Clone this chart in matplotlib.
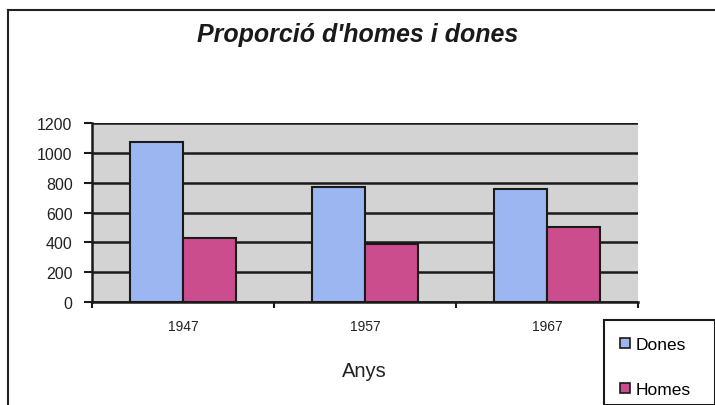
import matplotlib
matplotlib.use("Agg")
import matplotlib.pyplot as plt
from matplotlib.patches import Rectangle, Patch
from matplotlib.lines import Line2D
import numpy as np

plt.rcParams['font.family'] = ['Liberation Sans', 'DejaVu Sans']

years = ["1947", "1957", "1967"]
dones = [1075, 770, 760]
homes = [432, 388, 500]
series_names = ["Dones", "Homes"]
title = "Proporció d'homes i dones"
xlabel = "Anys"

W, H = 715, 406
fig = plt.figure(figsize=(W / 100, H / 100), dpi=100)

# outer chart border
fig.add_artist(Line2D([8 / W, 8 / W], [0, 1 - 11 / H], color="#222222", lw=1.5, transform=fig.transFigure))
fig.add_artist(Line2D([8 / W, 1], [1 - 11 / H, 1 - 11 / H], color="#222222", lw=1.5, transform=fig.transFigure))

left, right, top, bottom = 92, 638, 124, 303
ax = fig.add_axes([left / W, 1 - bottom / H, (right - left) / W, (bottom - top) / H])
ax.set_facecolor("#d3d3d3")

x = np.arange(len(years))
bw = 0.29
c_d = "#9cb6f2"
c_h = "#cc4d8e"
ax.bar(x - bw / 2, dones, bw, color=c_d, edgecolor="#1a1a1a", linewidth=1.5, zorder=3)
ax.bar(x + bw / 2, homes, bw, color=c_h, edgecolor="#1a1a1a", linewidth=1.5, zorder=3)

ax.set_xlim(-0.5, len(years) - 0.5)
ax.set_ylim(0, 1200)
ax.set_yticks(range(0, 1201, 200))
ax.yaxis.grid(True, color="#1a1a1a", lw=1.8, zorder=1)
ax.set_axisbelow(True)

ax.set_xticks(x)
ax.set_xticklabels(years, fontsize=10, color="#222222")
ax.set_xticks(np.arange(len(years) + 1) - 0.5, minor=True)
ax.tick_params(axis="x", which="major", length=0, pad=12)
ax.tick_params(axis="x", which="minor", length=4, width=1.5, color="#1a1a1a", direction="out")
ax.tick_params(axis="y", length=6, width=1.5, color="#1a1a1a", labelsize=11.5, pad=8, labelcolor="#222222")

for s in ["top", "right"]:
    ax.spines[s].set_visible(False)
for s in ["left", "bottom"]:
    ax.spines[s].set_color("#1a1a1a")
    ax.spines[s].set_linewidth(1.8)

fig.text(358 / W, 1 - 35 / H, title, fontsize=18, fontweight="bold", fontstyle="italic",
         ha="center", va="center", color="#1a1a1a")
fig.text(364 / W, 1 - 372 / H, xlabel, fontsize=14.5, ha="center", va="center", color="#222222")

# legend box
fig.add_artist(Rectangle((604 / W, 0), 1 - 604 / W, 1 - 321 / H, transform=fig.transFigure,
                         facecolor="white", edgecolor="#1a1a1a", lw=1.5))
handles = [Patch(facecolor=c_d, edgecolor="#1a1a1a", lw=1.2),
           Patch(facecolor=c_h, edgecolor="#1a1a1a", lw=1.2)]
fig.legend(handles, series_names, loc="upper left", bbox_to_anchor=(620 / W, 1 - 338 / H),
           frameon=False, fontsize=12.5, handlelength=0.55, handleheight=0.55,
           handletextpad=0.35, labelspacing=1.75, borderpad=0, borderaxespad=0)

fig.savefig("out.png", dpi=100, facecolor="white")
